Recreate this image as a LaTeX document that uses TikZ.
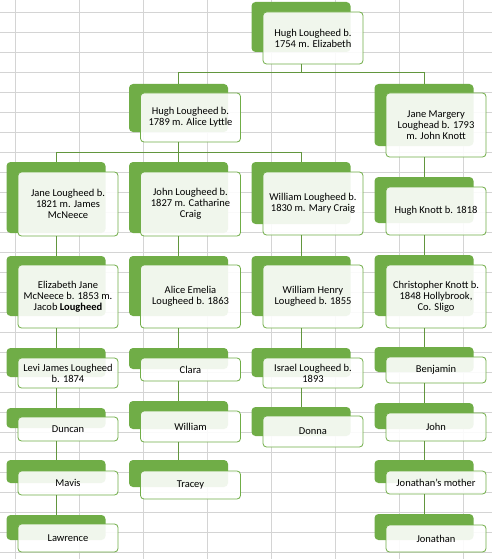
\documentclass[tikz,border=0pt]{standalone}
\usepackage{fontspec}
\setmainfont{Carlito}
\definecolor{famgreen}{RGB}{112,173,71}
\definecolor{linkgreen}{RGB}{98,150,62}
\definecolor{gridgray}{RGB}{212,212,212}
\begin{document}
\begin{tikzpicture}[x=1pt,y=-1pt,
  gridline/.style={gridgray,line width=0.8pt},
  back/.style={fill=famgreen,rounded corners=4pt,inner sep=0pt,outer sep=0pt,minimum width=99},
  card/.style={draw=famgreen,line width=0.8pt,fill=white,fill opacity=0.9,text opacity=1,
    rounded corners=3.5pt,inner sep=0pt,outer sep=0pt,minimum width=100,align=center,
    font=\fontsize{10.5}{11}\selectfont},
  link/.style={linkgreen,line width=0.8pt}]
\useasboundingbox (0,0) rectangle (492,559);
\fill[white] (0,0) rectangle (492,559);

% Draw sheet grid
\foreach \x in {15,79,...,463} \draw[gridline] (\x,0) -- (\x,559);
\foreach \y in {12,32,...,552} \draw[gridline] (0,\y) -- (492,\y);

% Level 1
\node[back,minimum height=50] (hugh54bg) at (301,27) {};
\node[card,minimum height=52] (hugh54) at (313,38) {Hugh Lougheed b.\\1754 m. Elizabeth};

% Level 2
\node[back,minimum height=48] (hugh89bg) at (178.5,108) {};
\node[card,minimum height=49] (hugh89) at (190.5,117.5) {Hugh Lougheed b.\\1789 m. Alice Lyttle};
\node[back,minimum height=62] (janem93bg) at (424,115) {};
\node[card,minimum height=64] (janem93) at (436,125) {Jane Margery\\Loughead b. 1793\\m. John Knott};

% Level 3
\node[back,minimum height=71] (jane21bg) at (56,197.5) {};
\node[card,minimum height=64] (jane21) at (68,204) {Jane Lougheed b.\\1821 m. James\\McNeece};
\node[back,minimum height=71] (john27bg) at (178.5,197.5) {};
\node[card,minimum height=64] (john27) at (190.5,204) {John Lougheed b.\\1827 m. Catharine\\Craig};
\node[back,minimum height=62] (william30bg) at (301,193) {};
\node[card,minimum height=63] (william30) at (313,203.5) {William Lougheed b.\\1830 m. Mary Craig};
\node[back,minimum height=46] (hughk18bg) at (424,200) {};
\node[card,minimum height=48] (hughk18) at (436,211) {Hugh Knott b. 1818};

% Level 4
\node[back,minimum height=60] (eliz53bg) at (56,286) {};
\node[card,minimum height=63] (eliz53) at (68,296.5) {Elizabeth Jane\\McNeece b. 1853 m.\\Jacob \textbf{Lougheed}};
\node[back,minimum height=60] (alice63bg) at (178.5,286) {};
\node[card,minimum height=63] (alice63) at (190.5,296.5) {Alice Emelia\\Lougheed b. 1863};
\node[back,minimum height=60] (willh55bg) at (301,286) {};
\node[card,minimum height=63] (willh55) at (313,296.5) {William Henry\\Lougheed b. 1855};
\node[back,minimum height=61] (chris48bg) at (424,285.5) {};
\node[card,minimum height=63] (chris48) at (436,296.5) {Christopher Knott b.\\1848 Hollybrook,\\Co. Sligo};

% Level 5
\node[back,minimum height=29] (levi74bg) at (56,362.5) {};
\node[card,minimum height=30] (levi74) at (68,373) {Levi James Lougheed\\b. 1874};
\node[back,minimum height=21] (clarabg) at (178.5,358.5) {};
\node[card,minimum height=23] (clara) at (190.5,369.5) {Clara};
\node[back,minimum height=29] (israel93bg) at (301,362.5) {};
\node[card,minimum height=30] (israel93) at (313,373) {Israel Lougheed b.\\1893};
\node[back,minimum height=25] (benjaminbg) at (424,359.5) {};
\node[card,minimum height=26] (benjamin) at (436,370) {Benjamin};

% Level 6
\node[back,minimum height=20] (duncanbg) at (56,418) {};
\node[card,minimum height=24] (duncan) at (68,429) {Duncan};
\node[back,minimum height=28] (williambg) at (178.5,415) {};
\node[card,minimum height=31] (william) at (190.5,426.5) {William};
\node[back,minimum height=29] (donnabg) at (301,421.5) {};
\node[card,minimum height=31] (donna) at (313,431.5) {Donna};
\node[back,minimum height=26] (johnbg) at (424,416) {};
\node[card,minimum height=28] (john) at (436,427) {John};

% Level 7
\node[back,minimum height=23] (mavisbg) at (56,471.5) {};
\node[card,minimum height=24] (mavis) at (68,483) {Mavis};
\node[back,minimum height=27] (traceybg) at (178.5,473.5) {};
\node[card,minimum height=28] (tracey) at (190.5,485) {Tracey};
\node[back,minimum height=23] (jmotherbg) at (424,471.5) {};
\node[card,minimum height=23] (jmother) at (436,482.5) {Jonathan's mother};

% Level 8
\node[back,minimum height=25] (lawrencebg) at (56,527.5) {};
\node[card,minimum height=28] (lawrence) at (68,538) {Lawrence};
\node[back,minimum height=26] (jonathanbg) at (424,527) {};
\node[card,minimum height=27] (jonathan) at (436,538.5) {Jonathan};

% Connectors
\draw[link] (hugh54bg |- hugh54.south) -- ++(0,8) -| (hugh89bg.north);
\draw[link] (hugh54bg |- hugh54.south) -- ++(0,8) -| (janem93bg.north);
\draw[link] (hugh89bg |- hugh89.south) -- ++(0,10) -| (jane21bg.north);
\draw[link] (hugh89bg |- hugh89.south) -- ++(0,10) -| (william30bg.north);
\draw[link] (hugh89bg |- hugh89.south) -- (john27bg.north);
\draw[link] (janem93bg |- janem93.south) -- (hughk18bg.north);

\draw[link] (jane21bg |- jane21.south) -- (eliz53bg.north);
\draw[link] (john27bg |- john27.south) -- (alice63bg.north);
\draw[link] (william30bg |- william30.south) -- (willh55bg.north);
\draw[link] (hughk18bg |- hughk18.south) -- (chris48bg.north);

\draw[link] (eliz53bg |- eliz53.south) -- (levi74bg.north);
\draw[link] (alice63bg |- alice63.south) -- (clarabg.north);
\draw[link] (willh55bg |- willh55.south) -- (israel93bg.north);
\draw[link] (chris48bg |- chris48.south) -- (benjaminbg.north);

\draw[link] (levi74bg |- levi74.south) -- (duncanbg.north);
\draw[link] (clarabg |- clara.south) -- (williambg.north);
\draw[link] (israel93bg |- israel93.south) -- (donnabg.north);
\draw[link] (benjaminbg |- benjamin.south) -- (johnbg.north);

\draw[link] (duncanbg |- duncan.south) -- (mavisbg.north);
\draw[link] (williambg |- william.south) -- (traceybg.north);
\draw[link] (johnbg |- john.south) -- (jmotherbg.north);
\draw[link] (mavisbg |- mavis.south) -- (lawrencebg.north);
\draw[link] (jmotherbg |- jmother.south) -- (jonathanbg.north);
\end{tikzpicture}
\end{document}
